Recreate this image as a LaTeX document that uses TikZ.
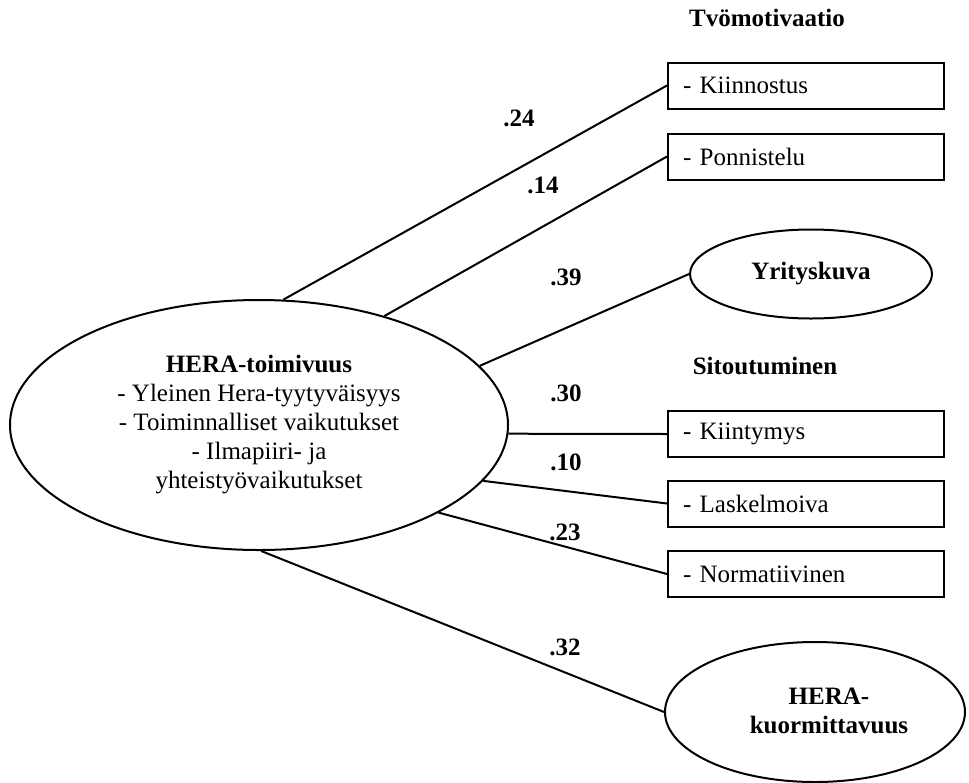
\documentclass[tikz,border=0pt]{standalone}
\usepackage{fontspec}
\setmainfont{Liberation Serif}
\usetikzlibrary{shapes.geometric}
\begin{document}
\begin{tikzpicture}[x=1pt,y=-1pt,
  every node/.style={font=\fontsize{25}{29}\selectfont},
  lbl/.style={font=\fontsize{25}{29}\selectfont\bfseries, inner sep=0pt},
  ovalnode/.style={draw, ellipse, line width=2pt, inner sep=0pt},
  itembox/.style={draw, rectangle, line width=2pt, minimum width=276pt, minimum height=46pt, text width=246pt, align=left, inner sep=0pt},
  conn/.style={line width=2pt}]
\useasboundingbox (0,0) rectangle (969,782);

% main latent variable
\node[ovalnode, minimum width=498pt, minimum height=250pt, align=center] (main) at (259,425)
  {\textbf{HERA-toimivuus}\\- Yleinen Hera-tyytyväisyys\\- Toiminnalliset vaikutukset\\- Ilmapiiri- ja\\yhteistyövaikutukset};

% titles
\node[lbl] (tyo) at (767,18) {Tvömotivaatio};
\node[lbl] (sit) at (765,366) {Sitoutuminen};

% boxes
\node[itembox] (kiin) at (806,85.5) {- Kiinnostus};
\node[itembox] (ponn) at (806,156.5) {- Ponnistelu};
\node[itembox] (kiit) at (806,434) {- Kiintymys};
\node[itembox] (lask) at (806,503.5) {- Laskelmoiva};
\node[itembox] (norm) at (806,574) {- Normatiivinen};

% ellipses
\node[ovalnode, minimum width=242pt, minimum height=89pt, font=\fontsize{25}{29}\selectfont\bfseries] (yrit) at (811,274) {Yrityskuva};
\node[ovalnode, minimum width=300pt, minimum height=140pt] (kuorm) at (815,712) {};
\node[lbl, align=center] (kuormtext) at (829,711) {HERA-\\kuormittavuus};

% coefficients
\node[lbl] (c24) at (519,118) {.24};
\node[lbl] (c14) at (543,185) {.14};
\node[lbl] (c39) at (566,277) {.39};
\node[lbl] (c30) at (566,393) {.30};
\node[lbl] (c10) at (566,462) {.10};
\node[lbl] (c23) at (565,532) {.23};
\node[lbl] (c32) at (565,647) {.32};

% connectors
\draw[conn] (main.79) -- (kiin.west);
\draw[conn] (main.41) -- (ponn.west);
\draw[conn] (main.15) -- (yrit.west);
\draw[conn] (main.-2.5) -- (kiit.west);
\draw[conn] (main.-14.8) -- (lask.west);
\draw[conn] (main.-26.8) -- (norm.west);
\draw[conn] (main.-89) -- (kuorm.west);
\end{tikzpicture}
\end{document}
